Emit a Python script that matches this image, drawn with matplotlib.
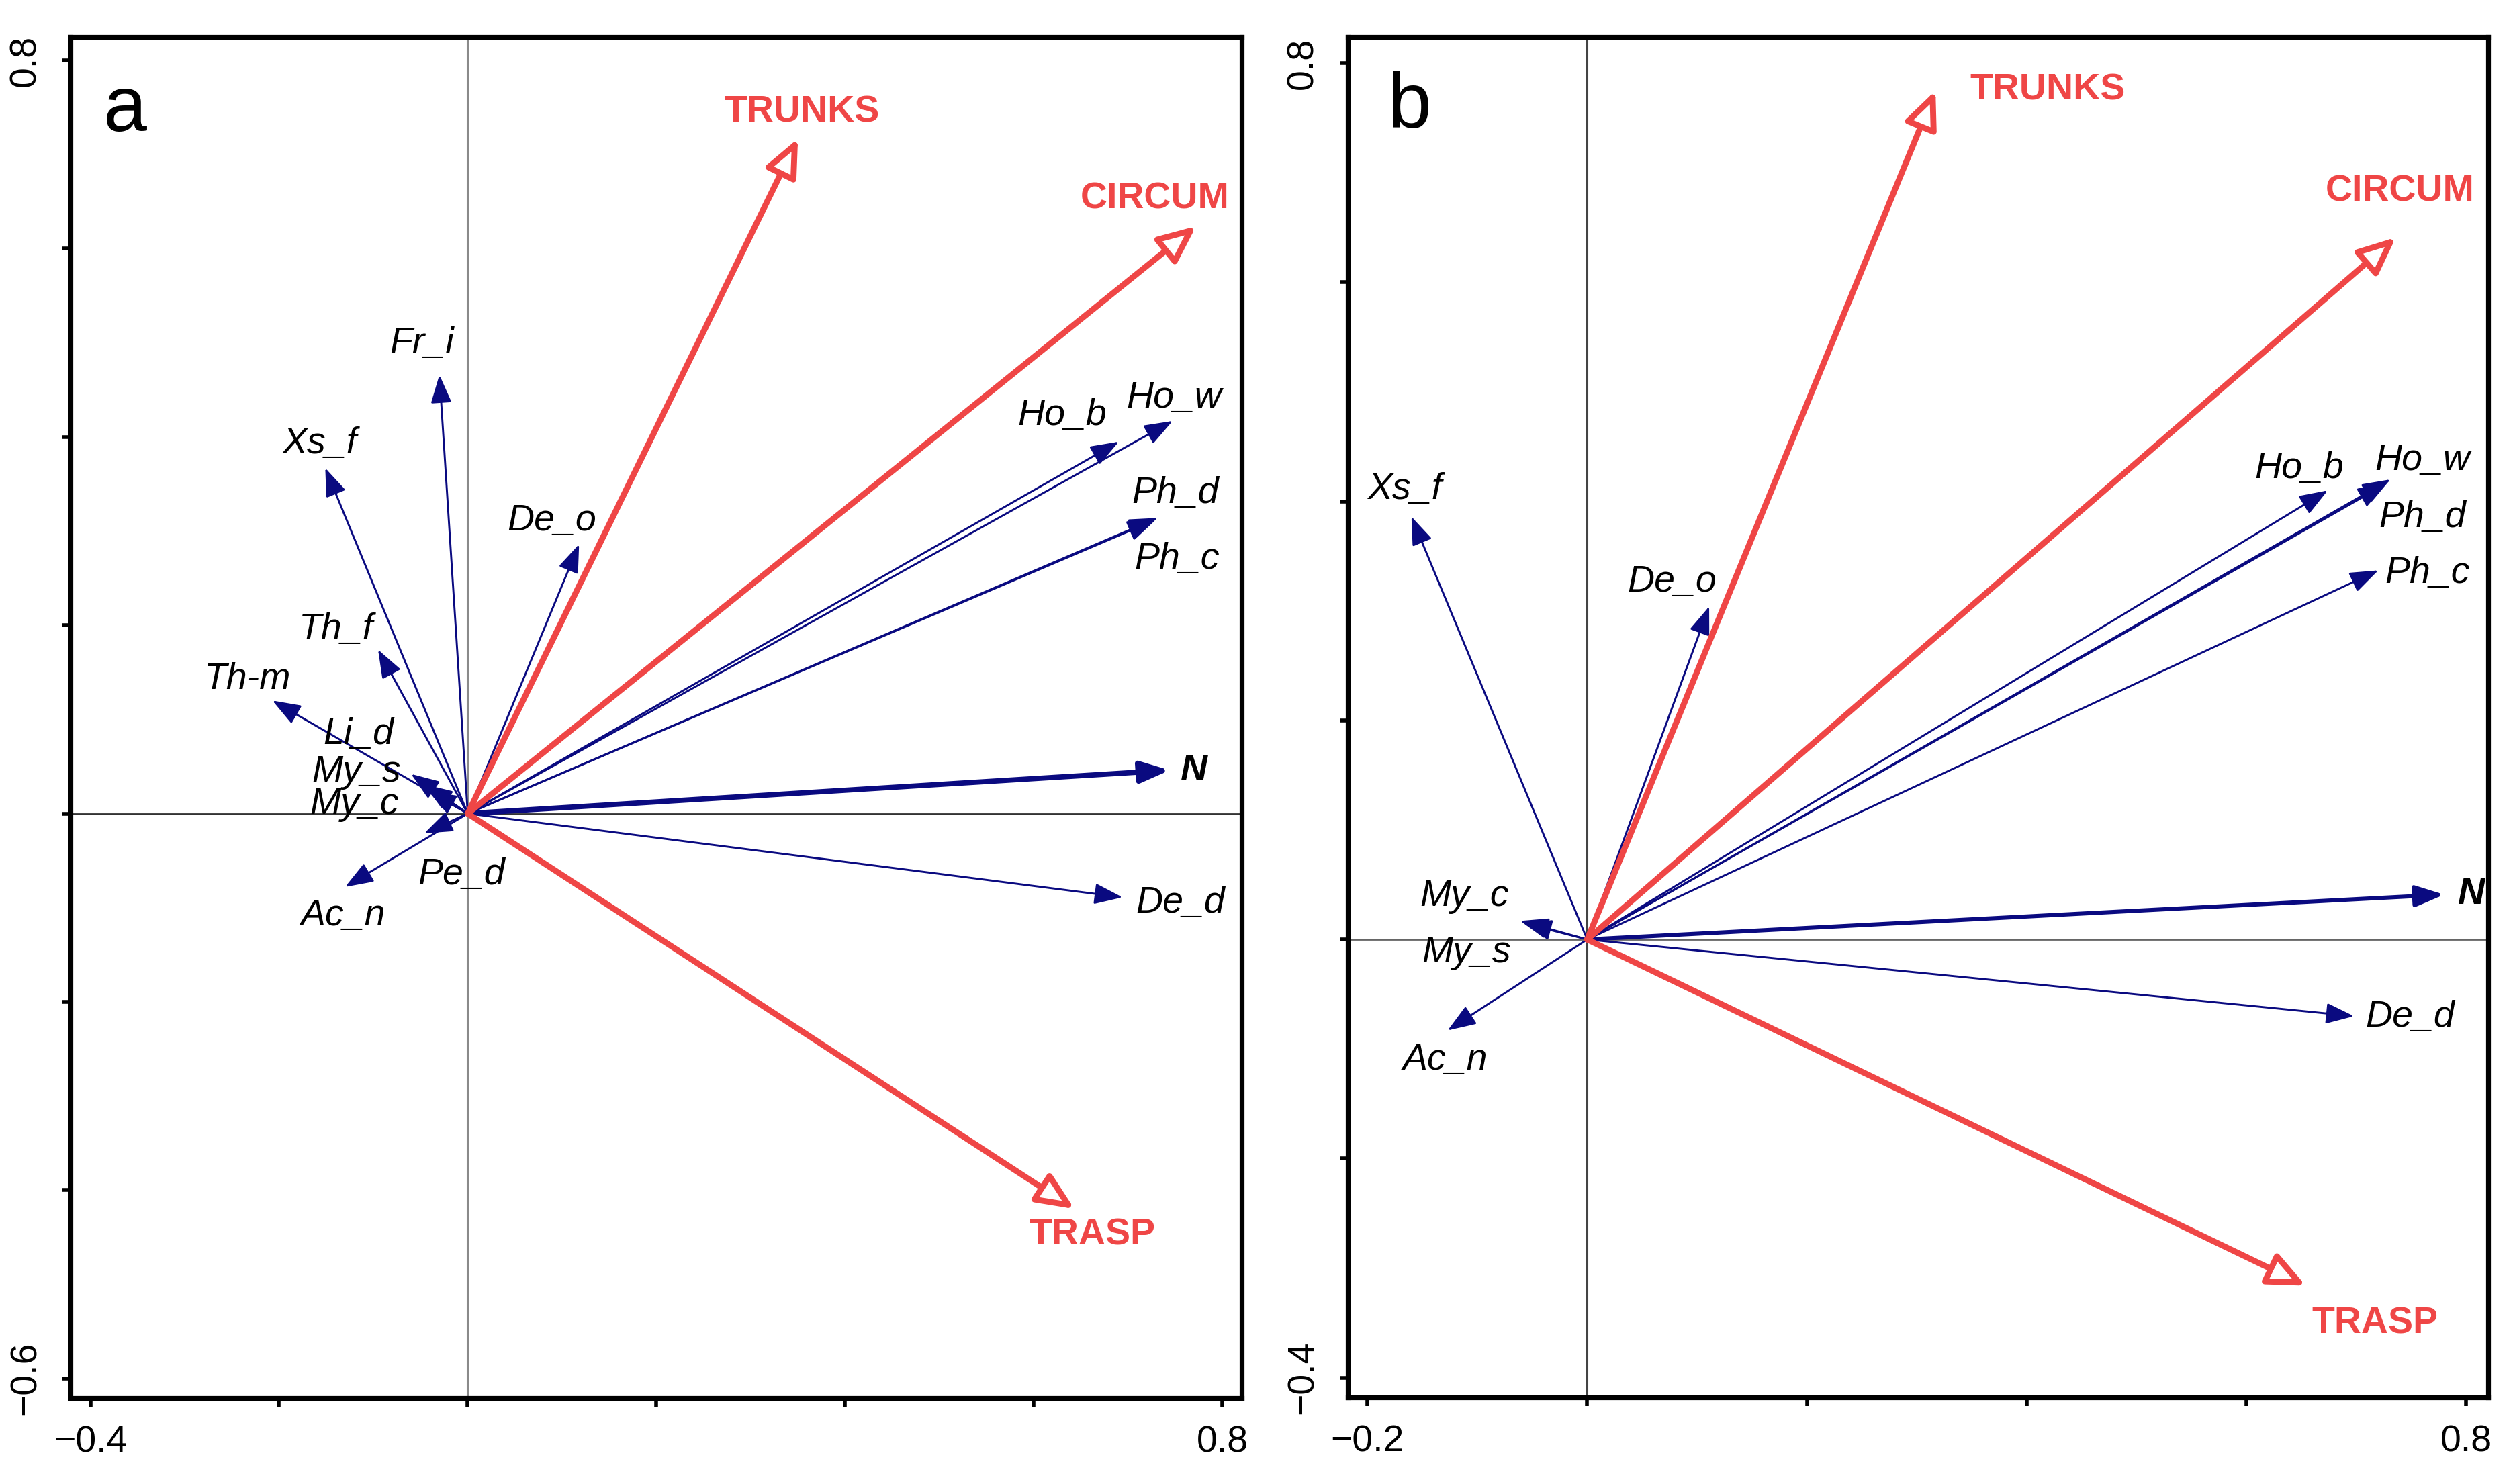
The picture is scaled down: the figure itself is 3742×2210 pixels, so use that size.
import matplotlib
matplotlib.use("Agg")
import matplotlib.pyplot as plt
import numpy as np

plt.rcParams['font.family'] = ['Liberation Sans', 'DejaVu Sans']

# ---------------- data ----------------
# Panel a: species (blue) arrow tips
sp_a_names = ["Fr_i", "Xs_f", "De_o", "Ho_b", "Ho_w", "Ph_d", "Ph_c", "Th_f", "Th-m",
              "Li_d", "My_s", "My_c", "Pe_d", "Ac_n", "N", "De_d"]
sp_a_x = [-0.030, -0.151, 0.118, 0.690, 0.747, 0.731, 0.729, -0.095, -0.207,
          -0.060, -0.046, -0.042, -0.046, -0.130, 0.744, 0.694]
sp_a_y = [0.466, 0.367, 0.286, 0.395, 0.417, 0.314, 0.312, 0.174, 0.120,
          0.042, 0.031, 0.024, -0.021, -0.078, 0.046, -0.089]
# label anchor positions (text placement)
lab_a_x = [-0.049, -0.157, 0.089, 0.630, 0.749, 0.750, 0.752, -0.140, -0.234,
           -0.116, -0.118, -0.120, -0.007, -0.132, 0.769, 0.755]
lab_a_y = [0.499, 0.393, 0.311, 0.423, 0.441, 0.340, 0.270, 0.195, 0.142,
           0.084, 0.044, 0.0095, -0.065, -0.109, 0.045, -0.095]

# Panel a: environmental (red) arrow tips
env_a_names = ["TRUNKS", "CIRCUM", "TRASP"]
env_a_x = [0.350, 0.772, 0.643]
env_a_y = [0.717, 0.624, -0.420]
env_lab_a_x = [0.354, 0.728, 0.662]
env_lab_a_y = [0.745, 0.653, -0.448]

# Panel b: species arrow tips
sp_b_names = ["Xs_f", "De_o", "Ho_b", "Ho_w", "Ph_d", "Ph_c", "N", "My_c", "My_s", "Ac_n", "De_d"]
sp_b_x = [-0.160, 0.111, 0.674, 0.731, 0.727, 0.720, 0.780, -0.061, -0.058, -0.127, 0.698]
sp_b_y = [0.386, 0.304, 0.410, 0.420, 0.416, 0.337, 0.041, 0.017, 0.015, -0.083, -0.070]
lab_b_x = [-0.166, 0.077, 0.648, 0.760, 0.760, 0.765, 0.804, -0.112, -0.110, -0.129, 0.749]
lab_b_y = [0.411, 0.326, 0.430, 0.437, 0.385, 0.334, 0.041, 0.039, -0.012, -0.110, -0.071]

env_b_names = ["TRUNKS", "CIRCUM", "TRASP"]
env_b_x = [0.317, 0.736, 0.654]
env_b_y = [0.775, 0.641, -0.316]
env_lab_b_x = [0.419, 0.740, 0.717]
env_lab_b_y = [0.775, 0.683, -0.351]

# axis tick values and labels
xticks_a = [-0.4, -0.2, 0.0, 0.2, 0.4, 0.6, 0.8]
yticks_a = [-0.6, -0.4, -0.2, 0.0, 0.2, 0.4, 0.6, 0.8]
xticks_b = [-0.2, 0.0, 0.2, 0.4, 0.6, 0.8]
yticks_b = [-0.4, -0.2, 0.0, 0.2, 0.4, 0.6, 0.8]

# ---------------- style ----------------
RED = '#EF4646'
BLUE = '#0A0A80'
FS = 20

fig = plt.figure(figsize=(18.71, 11.05), dpi=200)
ax_a = fig.add_axes([0.02806, 0.0579, 0.494 - 0.02806, 0.9751 - 0.0579])
ax_b = fig.add_axes([0.5363, 0.0584, 0.9901 - 0.5363, 0.9751 - 0.0584])


def style_axes(ax, xticks, yticks, xlim, ylim, zero_col_v, zero_col_h):
    ax.set_xlim(*xlim)
    ax.set_ylim(*ylim)
    ax.axvline(0, color=zero_col_v, lw=1.1, zorder=1)
    ax.axhline(0, color=zero_col_h, lw=1.0, zorder=1)
    for s in ax.spines.values():
        s.set_linewidth(2.6)
        s.set_color('black')
    ax.set_xticks(xticks)
    ax.set_yticks(yticks)
    xl = [''] * len(xticks)
    xl[0] = f"{xticks[0]:.1f}".replace('-', '\u2212')
    xl[-1] = f"{xticks[-1]:.1f}"
    yl = [''] * len(yticks)
    yl[0] = f"{yticks[0]:.1f}".replace('-', '\u2212')
    yl[-1] = f"{yticks[-1]:.1f}"
    ax.set_xticklabels(xl)
    ax.set_yticklabels(yl, rotation=90, va='center')
    ax.tick_params(direction='out', length=4.5, width=2.0, labelsize=FS, pad=10)


def draw_species(ax, names, xs, ys, lx, ly, n_lw):
    for name, x, y, tx, ty in zip(names, xs, ys, lx, ly):
        lw = n_lw if name == 'N' else 1.05
        ax.annotate('', xy=(x, y), xytext=(0, 0),
                    arrowprops=dict(arrowstyle='-|>,head_length=1.08,head_width=0.4',
                                    mutation_scale=12, color=BLUE, lw=lw,
                                    shrinkA=0, shrinkB=0), zorder=3)
        if name == 'N':
            ax.text(tx, ty, name, fontsize=FS, style='italic', fontweight='bold',
                    ha='center', va='center', zorder=5)
        else:
            ax.text(tx, ty, name, fontsize=FS, style='italic',
                    ha='center', va='center', zorder=5)


def draw_env(ax, names, xs, ys, lx, ly):
    for name, x, y, tx, ty in zip(names, xs, ys, lx, ly):
        ax.annotate('', xy=(x, y), xytext=(0, 0),
                    arrowprops=dict(arrowstyle='-|>,head_length=1.4,head_width=0.62',
                                    mutation_scale=12, facecolor='white', edgecolor=RED,
                                    lw=3.2, shrinkA=0, shrinkB=0), zorder=4)
        ax.text(tx, ty, name, fontsize=FS, fontweight='bold', color=RED,
                ha='center', va='center', zorder=5)


style_axes(ax_a, xticks_a, yticks_a, (-0.421, 0.820), (-0.621, 0.825), '#8a8a8a', '#333333')
style_axes(ax_b, xticks_b, yticks_b, (-0.218, 0.820), (-0.418, 0.824), '#444444', '#666666')

draw_species(ax_a, sp_a_names, sp_a_x, sp_a_y, lab_a_x, lab_a_y, 2.8)
draw_env(ax_a, env_a_names, env_a_x, env_a_y, env_lab_a_x, env_lab_a_y)
draw_species(ax_b, sp_b_names, sp_b_x, sp_b_y, lab_b_x, lab_b_y, 2.2)
draw_env(ax_b, env_b_names, env_b_x, env_b_y, env_lab_b_x, env_lab_b_y)

ax_a.text(-0.363, 0.747, 'a', fontsize=42, ha='center', va='center')
ax_b.text(-0.162, 0.760, 'b', fontsize=42, ha='center', va='center')

fig.savefig('out.png', dpi=200)
